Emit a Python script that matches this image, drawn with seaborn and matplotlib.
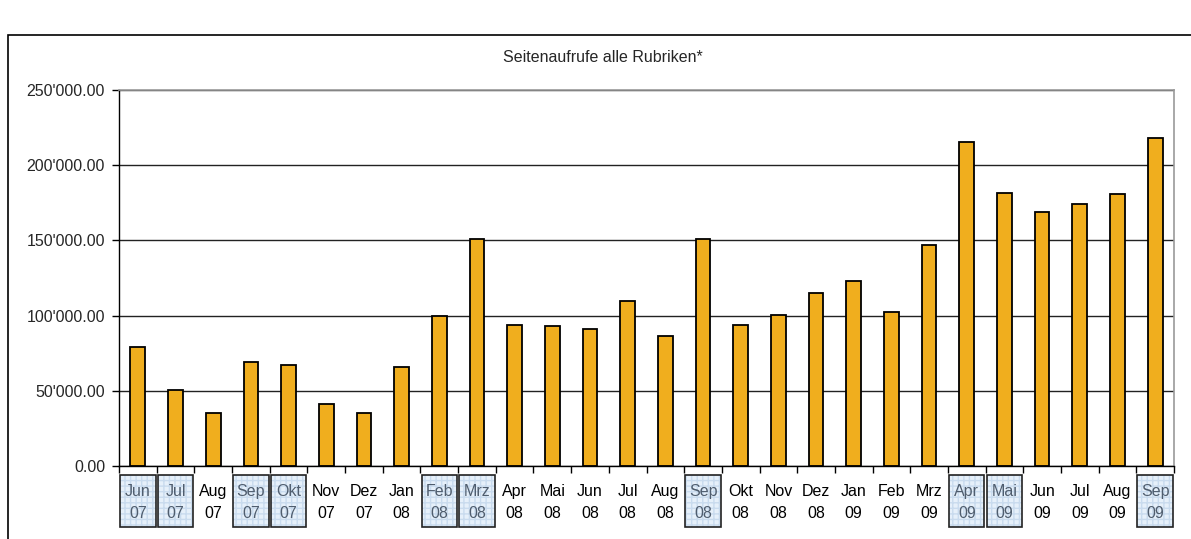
import pandas as pd
import seaborn as sns
import matplotlib.pyplot as plt
import matplotlib.patches as mpatches
from matplotlib.ticker import FuncFormatter, FixedLocator

sns.set_style("white")
plt.rcParams['font.family'] = ['Liberation Sans', 'DejaVu Sans']

# data
months = ['Jun', 'Jul', 'Aug', 'Sep', 'Okt', 'Nov', 'Dez',
          'Jan', 'Feb', 'Mrz', 'Apr', 'Mai', 'Jun', 'Jul', 'Aug', 'Sep', 'Okt', 'Nov', 'Dez',
          'Jan', 'Feb', 'Mrz', 'Apr', 'Mai', 'Jun', 'Jul', 'Aug', 'Sep']
years = ['07'] * 7 + ['08'] * 12 + ['09'] * 9
views = [79000, 50500, 35000, 69000, 67300, 41200, 35000,
         66000, 100000, 150700, 93800, 93000, 91200, 109800, 86500, 151000, 93800, 100700, 115000,
         122800, 102500, 146700, 215300, 181700, 168600, 174000, 180800, 217800]
highlighted = ['Jun 07', 'Jul 07', 'Sep 07', 'Okt 07', 'Feb 08', 'Mrz 08',
               'Sep 08', 'Apr 09', 'Mai 09', 'Sep 09']
y_ticks = [0, 50000, 100000, 150000, 200000, 250000]

labels = [m + ' ' + y for m, y in zip(months, years)]
df = pd.DataFrame({'monat': labels, 'aufrufe': views})

fig = plt.figure(figsize=(11.91, 5.39), dpi=100)
ax = fig.add_axes([119 / 1191, 73 / 539, 1055 / 1191, 376 / 539])

sns.barplot(data=df, x='monat', y='aufrufe', color='#F0AE1E', width=0.39,
            edgecolor='black', linewidth=1.3, saturation=1, ax=ax)

ax.set_ylim(0, 250000)
ax.set_xlim(-0.5, len(labels) - 0.5)
ax.yaxis.set_major_locator(FixedLocator(y_ticks))
ax.yaxis.set_major_formatter(FuncFormatter(lambda v, p: f"{v:,.2f}".replace(',', "'")))
ax.grid(axis='y', color='#222222', linewidth=1)
ax.set_axisbelow(True)
ax.set_xlabel('')
ax.set_ylabel('')

for s in ['left', 'bottom']:
    ax.spines[s].set_color('black')
    ax.spines[s].set_linewidth(1)
for s in ['top', 'right']:
    ax.spines[s].set_color('#999999')
    ax.spines[s].set_linewidth(1.2)

ax.tick_params(axis='y', left=True, length=5, width=1, color='black', labelsize=11.5, pad=5)

# x ticks at category borders, labels drawn below
ax.set_xticks([i - 0.5 for i in range(len(labels) + 1)], minor=True)
ax.tick_params(axis='x', which='minor', bottom=True, length=5, width=1, color='black')
ax.set_xticks([])

tr = ax.get_xaxis_transform()
for i, lab in enumerate(labels):
    m, y = lab.split(' ')
    if lab in highlighted:
        ax.add_patch(mpatches.Rectangle((i - 0.47, -0.162), 0.94, 0.138, transform=tr,
                                        facecolor='#e6f0fa', edgecolor='#c9dbee', hatch='+++',
                                        linewidth=0, clip_on=False))
        ax.add_patch(mpatches.Rectangle((i - 0.47, -0.162), 0.94, 0.138, transform=tr,
                                        facecolor='none', edgecolor='#222222', linewidth=1.2,
                                        clip_on=False))
        col = '#4f5d6e'
    else:
        col = 'black'
    ax.text(i, -0.069, m, transform=tr, ha='center', va='center', fontsize=11.5, color=col)
    ax.text(i, -0.125, y, transform=tr, ha='center', va='center', fontsize=11.5, color=col)

fig.text(603 / 1191, 1 - 58 / 539, 'Seitenaufrufe alle Rubriken*', ha='center', va='center',
         fontsize=11.5)

# outer chart frame (cut off at right and bottom)
fig.add_artist(mpatches.Rectangle((8 / 1191, -0.1), 1.2, 1 - 35 / 539 + 0.1,
                                  transform=fig.transFigure, facecolor='none',
                                  edgecolor='black', linewidth=1.2, clip_on=False))

fig.savefig('out.png', dpi=100)
